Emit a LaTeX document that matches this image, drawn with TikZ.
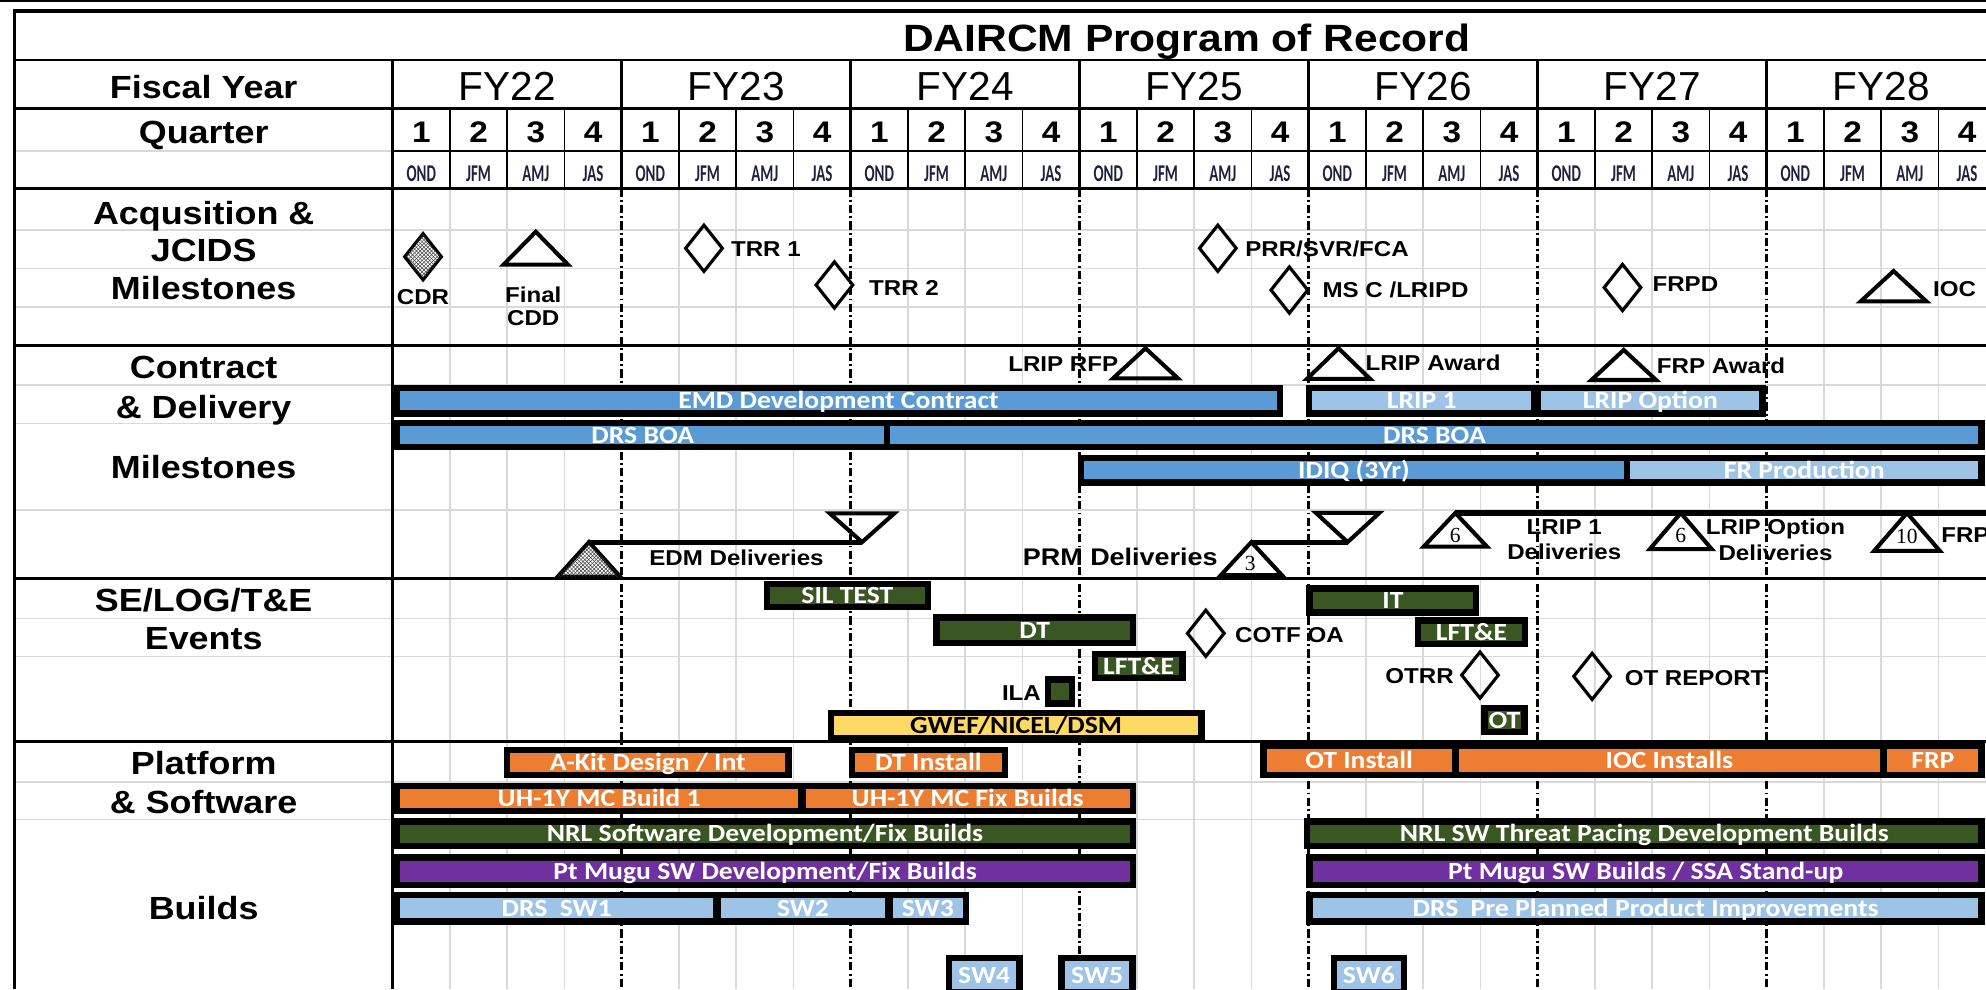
\documentclass[tikz,border=0pt]{standalone}
\usepackage{graphicx}
\usepackage{fontspec}
\setmainfont{Liberation Sans}[BoldFeatures={FakeStretch=1.12}]
\newfontfamily\barfont{Carlito}[BoldFeatures={FakeStretch=1.12}]
\newfontfamily\monfont{Carlito}
\newfontfamily\numfont{Liberation Serif}
\usetikzlibrary{shapes.geometric,patterns}
\definecolor{cblue}{HTML}{5B9BD5}
\definecolor{clight}{HTML}{9DC3E6}
\definecolor{cgreen}{HTML}{3A5723}
\definecolor{corange}{HTML}{ED7D31}
\definecolor{cpurple}{HTML}{7030A0}
\definecolor{cyellow}{HTML}{FFD966}
\definecolor{cgrid}{HTML}{D9D9D9}
\definecolor{cmon}{HTML}{1F1F3F}
\tikzset{
  gbar/.style={draw=black, line width=5bp, inner sep=0pt, text=white, text height=12.6bp, text depth=0pt, font=\fontsize{19.5bp}{22bp}\barfont\bfseries},
  ms/.style={inner sep=0pt, text height=12.2bp, text depth=0pt, font=\fontsize{17bp}{20bp}\selectfont\bfseries},
  sec/.style={inner sep=0pt, text height=18.1bp, text depth=0pt, font=\fontsize{25.3bp}{29bp}\selectfont\bfseries},
  fyt/.style={inner sep=0pt, text height=22.9bp, text depth=0pt, font=\fontsize{32bp}{36bp}\selectfont},
  qn/.style={inner sep=0pt, text height=17bp, text depth=0pt, font=\fontsize{23.5bp}{26bp}\selectfont\bfseries},
  mon/.style={inner sep=0pt, text=cmon, text height=12bp, text depth=0pt, font=\fontsize{19bp}{21bp}\monfont\bfseries},
  num/.style={inner sep=0pt, font=\fontsize{17bp}{20bp}\numfont},
  dia/.style={diamond, draw=black, line width=2.5bp, minimum width=30bp, minimum height=37.5bp, inner sep=0pt},
  tri/.style={draw=black, line width=3.2bp, line join=miter},
  dl/.style={line width=4bp},
  fyline/.style={line width=2bp, dash pattern=on 6.5bp off 2.5bp on 1.5bp off 2.5bp},
  hatch/.style={pattern=north east lines, pattern color=black!75, postaction={pattern=north west lines, pattern color=black!75}},
}
\newcommand\gb[7]{\node[gbar, fill=#6, minimum width={(#3-#2-5)*1bp}, minimum height={(#5-#4-5)*1bp}] (#1) at ({(#2+#3)/2},{(#4+#5)/2}) {#7};}
\newcommand\utri[6][]{\draw[tri,#1] ({#3-#6},#5) -- (#3,#4) -- ({#3+#6},#5) -- cycle; \coordinate (#2) at (#3,#4);}
\newcommand\dtri[5]{\draw[tri] ({#2-#5},#4) -- ({#2+#5},#4) -- (#2,#3) -- cycle; \coordinate (#1) at (#2,#3);}
\begin{document}
\begin{tikzpicture}[x=1bp,y=-1bp]
\fill[white] (0,0) rectangle (1568,781);
\useasboundingbox (0,0) rectangle (1568,781);
\clip (0,0) rectangle (1568,781);
% grey grid
\foreach \y in {181.6,212,242.4,304,334.2,402.7,488.2,518.4,617.2,646.9}
  \draw[cgrid, line width=1.2bp] (11.6,\y) -- (1568,\y);
\draw[cgrid, line width=1.2bp] (11.6,119.2) -- (310,119.2);
\foreach \f in {0,...,6}
  \foreach \q in {1,2,3}
    \draw[cgrid, line width=1.2bp] ({310+180.8*\f+45.2*\q},148.7) -- ({310+180.8*\f+45.2*\q},781);
\foreach \f in {1,...,6}
  \draw[fyline] ({310+180.8*\f},148.7) -- ({310+180.8*\f},781);
% header lines
\draw[line width=1.2bp] (0,0.9) -- (1568,0.9);
\draw[line width=2bp] (11.6,47.4) -- (1568,47.4);
\draw[line width=2bp] (11.6,85.5) -- (1568,85.5);
\draw[line width=1.5bp] (310,119.2) -- (1568,119.2);
\draw[line width=2bp] (11.6,148.7) -- (1568,148.7);
\foreach \f in {0,...,6}
  \foreach \q in {1,2,3}
    \draw[line width=1.2bp] ({310+180.8*\f+45.2*\q},85.5) -- ({310+180.8*\f+45.2*\q},148.7);
\foreach \f in {1,...,6}
  \draw[line width=2bp] ({310+180.8*\f},47.4) -- ({310+180.8*\f},148.7);
\draw[line width=2.2bp] (310,47.4) -- (310,781);
\foreach \y in {272.8,456.6,585.6}
  \draw[line width=2bp] (11.6,\y) -- (1568,\y);
\draw[line width=2.5bp] (11.6,781) -- (11.6,8.7) -- (1568,8.7);
% header text
\node[inner sep=0pt, text height=22bp, text depth=0pt, font=\fontsize{30bp}{34bp}\selectfont\bfseries] (title) at (937,29.5) {DAIRCM Program of Record};
\node[sec] (fyl) at (160.8,69) {Fiscal Year};
\node[sec] (qtl) at (160.8,104) {Quarter};
\foreach \f/\t in {0/FY22,1/FY23,2/FY24,3/FY25,4/FY26,5/FY27,6/FY28}
  \node[fyt] (fy\f) at ({310+180.8*(\f+0.5)},68) {\t};
\foreach \f in {0,...,6}
  \foreach \q/\m in {1/OND,2/JFM,3/AMJ,4/JAS}{
    \node[qn] (q\f\q) at ({310+180.8*\f+45.2*(\q-0.5)},104) {\q};
    \node[mon] (m\f\q) at ({310+180.8*\f+45.2*(\q-0.5)},137) {\scalebox{0.62}[1]{\m}};
  }
% section labels
\node[sec] (lab1) at (160.8,168.4) {Acqusition \&};
\node[sec] (lab2) at (160.8,197.4) {JCIDS};
\node[sec] (lab3) at (160.8,227.6) {Milestones};
\node[sec] (lab4) at (160.8,289.5) {Contract};
\node[sec] (lab5) at (160.8,321) {\& Delivery};
\node[sec] (lab6) at (160.8,368.4) {Milestones};
\node[sec] (lab7) at (160.8,473.7) {SE/LOG/T\&E};
\node[sec] (lab8) at (160.8,504) {Events};
\node[sec] (lab9) at (160.8,602.7) {Platform};
\node[sec] (lab10) at (160.8,633) {\& Software};
\node[sec] (lab11) at (160.8,717) {Builds};
% contract bars
\gb{emd}{311}{1013}{304}{329}{cblue}{EMD Development Contract}
\gb{lrip1}{1031}{1214}{304}{329}{clight}{LRIP 1}
\gb{lripo}{1212}{1394}{304}{329}{clight}{LRIP Option}
\gb{boa1}{311}{704}{331.5}{355.5}{cblue}{DRS BOA}
\gb{boa2}{698}{1567}{331.5}{355.5}{cblue}{DRS BOA}
\gb{idiq}{851}{1287}{359}{383.5}{cblue}{IDIQ (3Yr)}
\gb{frprod}{1282}{1567}{359}{383.5}{clight}{FR Production}
% SE/LOG bars
\gb{sil}{603}{735}{458.5}{482}{cgreen}{SIL TEST}
\gb{dt}{737}{897}{485}{510}{cgreen}{DT}
\gb{lfte1}{862}{936}{514}{538}{cgreen}{LFT\&E}
\gb{ila}{825}{849}{534}{558}{cgreen}{}
\gb{gwef}{653.5}{951}{560.5}{585.5}{cyellow}{\color{black}GWEF/NICEL/DSM}
\gb{it}{1031.5}{1168}{462}{486}{cgreen}{IT}
\gb{lfte2}{1117}{1206.5}{487.5}{511}{cgreen}{LFT\&E}
\gb{ot}{1169.5}{1206}{556.5}{580.5}{cgreen}{OT}
% platform bars
\gb{akit}{398}{625}{589.5}{614.5}{corange}{A-Kit Design / Int}
\gb{dtins}{670}{796}{589.5}{614.5}{corange}{DT Install}
\gb{otins}{995}{1151}{586}{614.5}{corange}{OT Install}
\gb{iocins}{1147}{1489}{586}{614.5}{corange}{IOC Installs}
\gb{frp}{1485}{1567}{586}{614.5}{corange}{FRP}
\gb{uh1}{311}{635}{618}{643}{corange}{UH-1Y MC Build 1}
\gb{uhfix}{631}{897}{618}{643}{corange}{UH-1Y MC Fix Builds}
\gb{nrl}{311}{897}{646}{670.5}{cgreen}{NRL Software Development/Fix Builds}
\gb{nrl2}{1029.5}{1567}{646}{670.5}{cgreen}{NRL SW Threat Pacing Development Builds}
\gb{mugu}{311}{897}{674.5}{701}{cpurple}{Pt Mugu SW Development/Fix Builds}
\gb{mugu2}{1031.5}{1567}{674.5}{701}{cpurple}{Pt Mugu SW Builds / SSA Stand-up}
\gb{sw1}{311}{568}{704}{730}{clight}{DRS\hspace{0.5em}SW1}
\gb{sw2}{564}{704}{704}{730}{clight}{SW2}
\gb{sw3}{700}{765}{704}{730}{clight}{SW3}
\gb{pppi}{1031.5}{1567}{704}{730}{clight}{DRS\hspace{0.5em}Pre Planned Product Improvements}
\gb{sw4}{746.5}{807.5}{754}{786}{clight}{SW4}
\gb{sw5}{835.7}{896.7}{754}{786}{clight}{SW5}
\gb{sw6}{1050.5}{1111}{754}{786}{clight}{SW6}
% acquisition milestones
\node[dia, hatch] (cdr) at (334,202.7) {};
\node[ms] (cdrl) at (334,234.5) {CDR};
\utri{fcdd}{423}{183}{209}{25.5}
\node[ms] (fcddl1) at (421,233) {Final};
\node[ms] (fcddl2) at (421,251) {CDD};
\node[dia] (trr1) at (555.8,196) {};
\node[ms, anchor=west] (trr1l) at (577,196.6) {TRR 1};
\node[dia] (trr2) at (658.8,225) {};
\node[ms, anchor=west] (trr2l) at (686,227) {TRR 2};
\node[dia] (prr) at (961.5,196) {};
\node[ms, anchor=west] (prrl) at (983,196.7) {PRR/SVR/FCA};
\node[dia] (msc) at (1018,229) {};
\node[ms, anchor=west] (mscl) at (1044,229) {MS C /LRIPD};
\node[dia] (frpd) at (1281,227) {};
\node[ms, anchor=west] (frpdl) at (1304.5,223.7) {FRPD};
\utri{ioc}{1495}{214}{238}{26}
\node[ms, anchor=west] (iocl) at (1526,227.6) {IOC};
% contract milestones
\utri{rfp}{904.4}{275}{298.7}{25.6}
\node[ms, anchor=east] (rfpl) at (883,287.4) {LRIP RFP};
\utri{lraw}{1056.8}{275}{299.2}{25}
\node[ms, anchor=west] (lrawl) at (1078,286.3) {LRIP Award};
\utri{frpaw}{1282}{276.3}{300}{25.5}
\node[ms, anchor=west] (frpawl) at (1308,289) {FRP Award};
% deliveries
\utri[hatch]{edmA}{465}{428}{455.3}{24.7}
\dtri{edmB}{680.6}{428}{405.3}{25.5}
\draw[dl] (edmA) -- (edmB);
\node[ms] (edml) at (581.5,440.7) {EDM Deliveries};
\utri{prmA}{988}{428}{454}{24}
\node[num] (n3) at (987,444.5) {3};
\dtri{prmB}{1064}{428}{405}{25}
\draw[dl] (prmA) -- (prmB);
\node[ms, font=\fontsize{19bp}{22bp}\selectfont\bfseries, text height=13.6bp] (prml) at (884.5,439.5) {PRM Deliveries};
\utri{la}{1149}{405}{431.6}{25}
\utri{lb}{1327}{405}{433.6}{24.5}
\utri{lc}{1505.6}{405}{435}{26}
\coordinate (lend) at (1570,405);
\draw[dl] (la) -- (lend);
\node[num] (n6a) at (1149,422.4) {6};
\node[num] (n6b) at (1327,422.4) {6};
\node[num] (n10) at (1505.6,423.7) {10};
\node[ms] (l1a) at (1235,415.8) {LRIP 1};
\node[ms] (l1b) at (1235,435.5) {Deliveries};
\node[ms] (l2a) at (1401.8,415.8) {LRIP Option};
\node[ms] (l2b) at (1401.8,436.7) {Deliveries};
\node[ms, anchor=west] (frpl) at (1532.5,422.4) {FRP};
% events milestones
\node[dia] (cotf) at (952,500) {};
\node[ms, anchor=west] (cotfl) at (975,501) {COTF OA};
\node[ms, anchor=east] (ilal) at (822,547) {ILA};
\node[dia] (otrr) at (1168.5,533) {};
\node[ms, anchor=east] (otrrl) at (1148,533.7) {OTRR};
\node[dia] (otrep) at (1257,534) {};
\node[ms, anchor=west] (otrepl) at (1282.6,535.5) {OT REPORT};
\end{tikzpicture}
\end{document}
